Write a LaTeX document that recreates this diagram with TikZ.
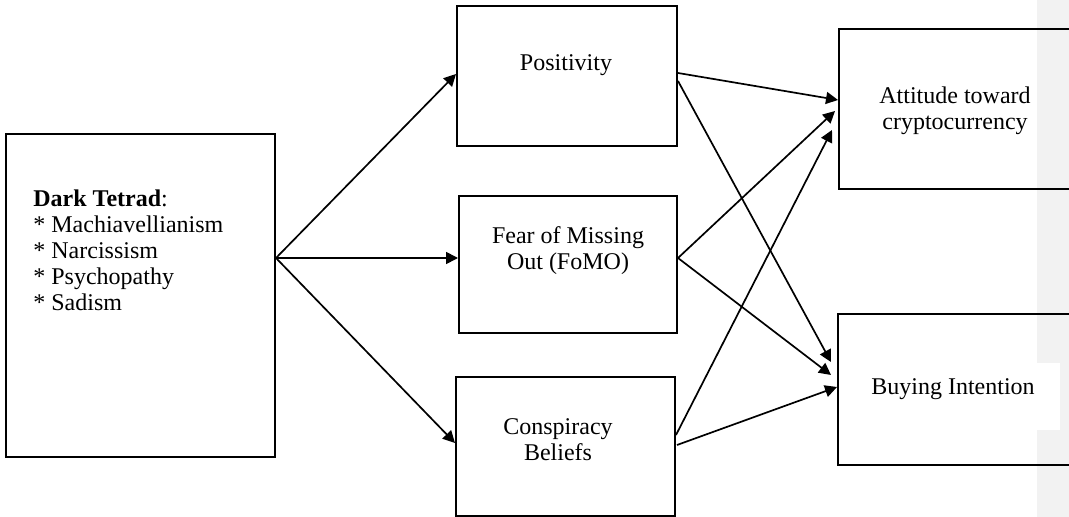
\documentclass[tikz,border=0pt]{standalone}
\usepackage{fontspec}
\setmainfont{Liberation Serif}
\usetikzlibrary{arrows.meta,calc}
\begin{document}
\begin{tikzpicture}[x=0.5pt,y=-0.5pt,
  box/.style={draw=black, line width=1pt, inner sep=0pt, anchor=center},
  lbl/.style={font=\fontsize{12}{13}\selectfont, inner sep=0pt, align=center, anchor=north},
  arr/.style={-{Triangle[length=6pt,width=6pt]}, line width=0.85pt}
]
\useasboundingbox (0,0) rectangle (1069,517);
\clip (0,0) rectangle (1069,517);
\fill[black!5] (1037,0) rectangle (1069,517);
\fill[white] (1037,363) rectangle (1060,430);

\node[box, minimum width=134.5pt, minimum height=161.5pt] (dark) at (140.5,295.5) {};
\node[box, minimum width=110pt, minimum height=70pt] (pos) at (567,76) {};
\node[box, minimum width=109pt, minimum height=68.5pt] (fomo) at (568,264.5) {};
\node[box, minimum width=109.5pt, minimum height=69.5pt] (consp) at (565.5,446.5) {};
\node[box, minimum width=120.5pt, minimum height=80pt] (att) at (959.5,109) {};
\node[box, minimum width=121pt, minimum height=75.5pt] (buy) at (959,389.5) {};

\node[lbl, align=left, anchor=north west] (tdark) at (33,187.8)
  {\strut\textbf{Dark Tetrad}:\\* Machiavellianism\\* Narcissism\\* Psychopathy\\* Sadism};
\node[lbl] (tpos) at (566,51.8) {\strut Positivity};
\node[lbl] (tfomo) at (568,224.8) {\strut Fear of Missing\\Out (FoMO)};
\node[lbl] (tconsp) at (558,415.8) {\strut Conspiracy\\Beliefs};
\node[lbl] (tatt) at (955,84.8) {\strut Attitude toward\\cryptocurrency};
\node[lbl] (tbuy) at (953,375.8) {\strut Buying Intention};

\coordinate (hub) at ($(dark.east)+(0,-37.5)$);
\draw[arr] (hub) -- ($(pos.west)+(0,-2)$);
\draw[arr] (hub) -- ($(fomo.west)+(0,-6.5)$);
\draw[arr] (hub) -- ($(consp.west)+(0,-3.5)$);

\draw[arr] ($(pos.east)+(0,-3)$) -- ($(att.west)+(0,-9)$);
\draw[arr] ($(pos.east)+(0,5)$) -- ($(buy.west)+(-6,-27.5)$);
\draw[arr] ($(fomo.east)+(0,-6.5)$) -- ($(att.west)+(-3,2)$);
\draw[arr] ($(fomo.east)+(0,-6.5)$) -- ($(buy.west)+(-6,-14.5)$);
\draw[arr] ($(consp.east)+(0,-11.5)$) -- ($(att.west)+(-6,21)$);
\draw[arr] ($(consp.east)+(1,-1.5)$) -- ($(buy.west)+(0,-2.5)$);
\end{tikzpicture}
\end{document}
